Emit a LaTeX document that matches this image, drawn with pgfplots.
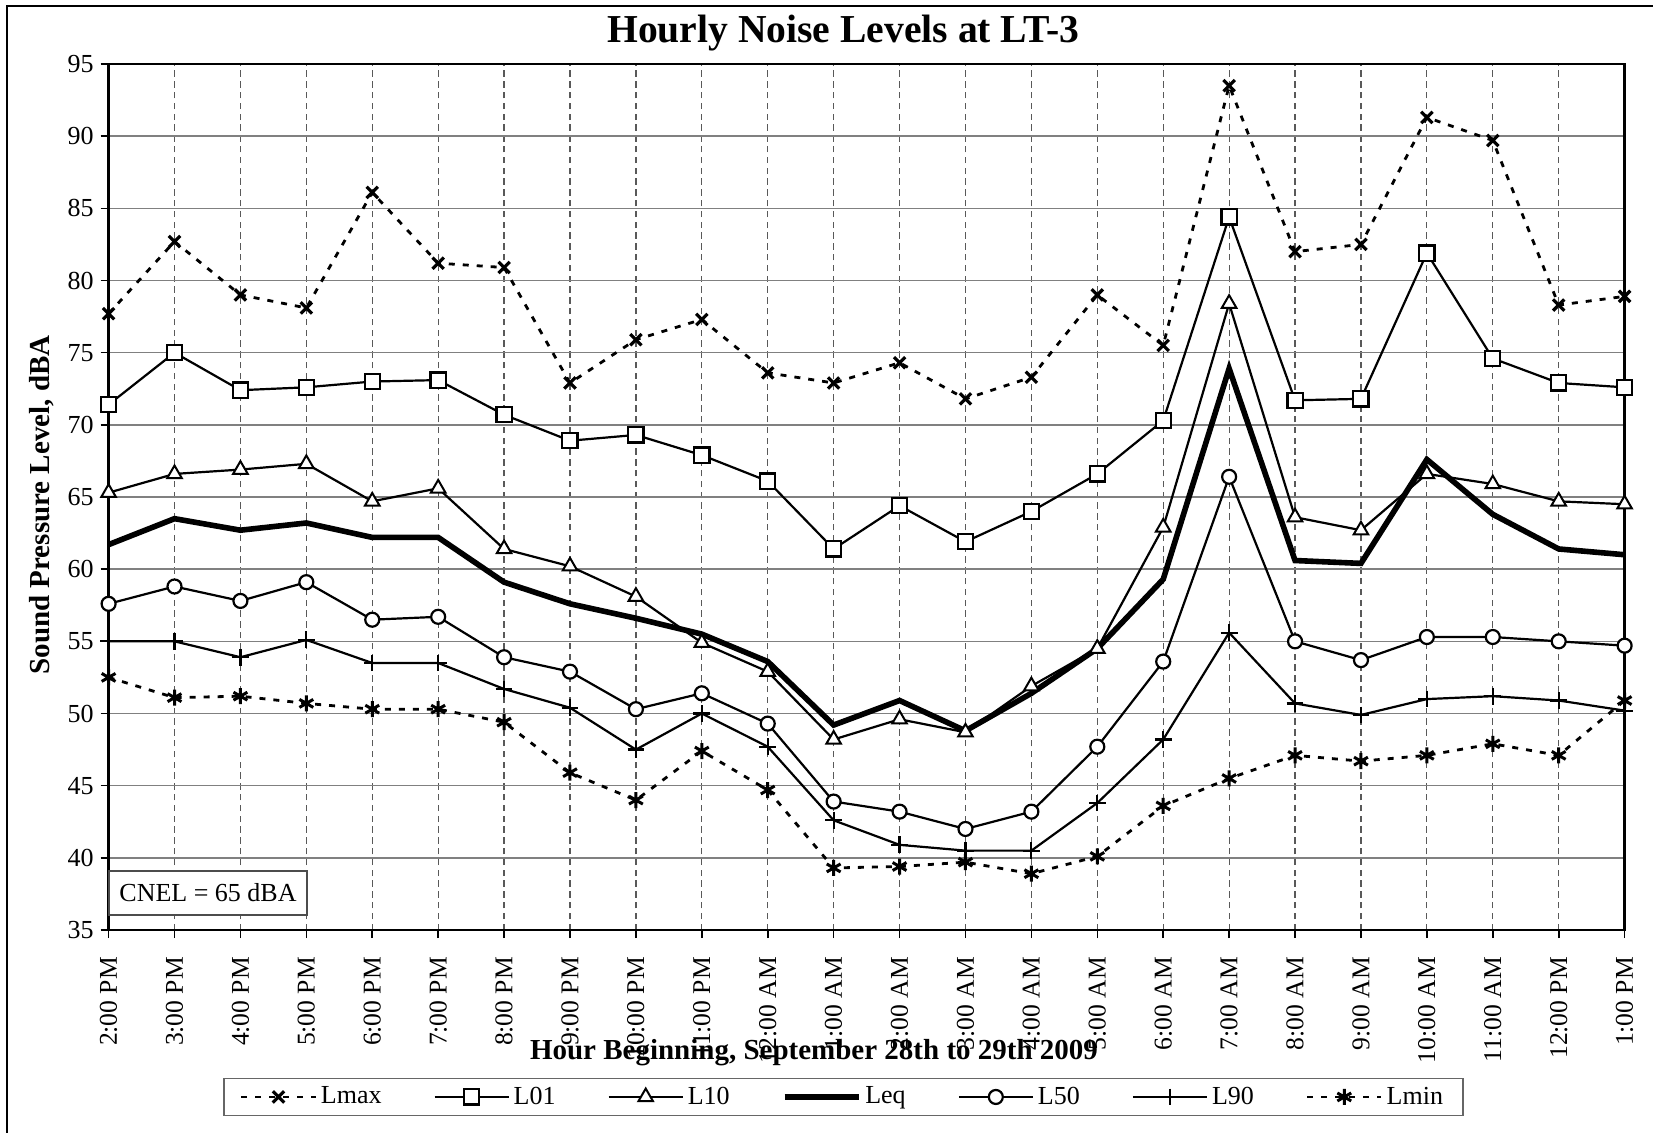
\documentclass[border=0pt]{standalone}
\usepackage{fontspec}
\setmainfont{Liberation Serif}
\usepackage{pgfplots}
\pgfplotsset{compat=1.18}
\usepackage{pgfplotstable}

\pgfplotstableread{
x  Lmax L01  L10  Leq  L50  L90  Lmin
0  77.7 71.4 65.3 61.7 57.6 55.0 52.5
1  82.7 75.0 66.6 63.5 58.8 55.0 51.1
2  79.0 72.4 66.9 62.7 57.8 53.9 51.2
3  78.1 72.6 67.3 63.2 59.1 55.1 50.7
4  86.1 73.0 64.7 62.2 56.5 53.5 50.3
5  81.2 73.1 65.6 62.2 56.7 53.5 50.3
6  80.9 70.7 61.4 59.1 53.9 51.7 49.4
7  72.9 68.9 60.2 57.6 52.9 50.4 45.9
8  75.9 69.3 58.1 56.6 50.3 47.5 44.0
9  77.3 67.9 54.9 55.5 51.4 50.0 47.4
10 73.6 66.1 52.9 53.6 49.3 47.7 44.7
11 72.9 61.4 48.2 49.2 43.9 42.6 39.3
12 74.3 64.4 49.6 50.9 43.2 40.9 39.4
13 71.8 61.9 48.7 48.8 42.0 40.5 39.7
14 73.3 64.0 51.9 51.4 43.2 40.5 38.9
15 79.0 66.6 54.5 54.5 47.7 43.8 40.1
16 75.5 70.3 62.9 59.3 53.6 48.2 43.6
17 93.5 84.4 78.4 73.9 66.4 55.6 45.5
18 82.0 71.7 63.6 60.6 55.0 50.7 47.1
19 82.5 71.8 62.7 60.4 53.7 49.9 46.7
20 91.3 81.9 66.6 67.6 55.3 51.0 47.1
21 89.7 74.6 65.9 63.8 55.3 51.2 47.9
22 78.3 72.9 64.7 61.4 55.0 50.9 47.1
23 78.9 72.6 64.5 61.0 54.7 50.2 50.9
}\datatable

\begin{document}
\begin{tikzpicture}
\useasboundingbox (0,0) rectangle (826.5pt,566pt);
\draw[line width=1pt] (3.5pt,-1pt) -- (3.5pt,563pt) -- (827pt,563pt);
\begin{axis}[
  at={(54.3pt,101pt)}, anchor=south west,
  scale only axis, width=758pt, height=433pt,
  xmin=0, xmax=23, ymin=35, ymax=95,
  clip=false,
  xtick={0,...,23},
  xticklabels={2:00 PM,3:00 PM,4:00 PM,5:00 PM,6:00 PM,7:00 PM,8:00 PM,9:00 PM,10:00 PM,11:00 PM,12:00 AM,1:00 AM,2:00 AM,3:00 AM,4:00 AM,5:00 AM,6:00 AM,7:00 AM,8:00 AM,9:00 AM,10:00 AM,11:00 AM,12:00 PM,1:00 PM},
  ytick={35,40,...,95},
  tick pos=left, tick align=outside, major tick length=4pt,
  tick style={black, line width=0.8pt},
  axis line style={black, line width=1.2pt},
  xmajorgrids, ymajorgrids,
  x grid style={black!65, line width=0.6pt, dash pattern=on 3.2pt off 2.2pt},
  y grid style={black!50, line width=0.7pt},
  /pgf/number format/assume math mode=true,
  yticklabel style={font=\fontsize{13}{15}\selectfont},
  xticklabel style={font=\fontsize{12.8}{14}\selectfont, rotate=90, anchor=east},
  xticklabel shift=6pt,
  title={Hourly Noise Levels at LT-3},
  title style={font=\bfseries\fontsize{19.8}{22}\selectfont, at={(axis description cs:0.4847,1.0104)}, anchor=base},
  ylabel={Sound Pressure Level, dBA},
  ylabel style={font=\bfseries\fontsize{14.5}{16}\selectfont, at={(axis description cs:-0.0439,0.4908)}, anchor=center},
  xlabel={Hour Beginning, September 28th to 29th 2009},
  xlabel style={font=\bfseries\fontsize{14.5}{16}\selectfont, at={(axis description cs:0.4653,-0.149)}, anchor=base},
  legend columns=7,
  legend style={at={(0.4848,-0.1928)}, anchor=center, draw=black!60, line width=0.6pt,
    font=\fontsize{13}{15}\selectfont, inner xsep=8pt, inner ysep=2pt,
    /tikz/every even column/.append style={column sep=24pt}},
  legend image code/.code={\draw[mark repeat=2,mark phase=2,#1] plot coordinates {(0pt,0pt) (18.5pt,0pt) (37pt,0pt)};},
]
\addplot[black, line width=1.4pt, dash pattern=on 3pt off 4pt, mark=x, mark size=4pt, mark options={solid, line width=1.6pt}] table[x=x,y=Lmax]{\datatable};
\addlegendentry{Lmax}
\addplot[black, line width=1.1pt, mark=square*, mark size=3.8pt, mark options={solid, fill=white, line width=1.1pt}] table[x=x,y=L01]{\datatable};
\addlegendentry{L01}
\addplot[black, line width=1.1pt, mark=triangle*, mark size=4.2pt, mark options={solid, fill=white, line width=1pt}] table[x=x,y=L10]{\datatable};
\addlegendentry{L10}
\addplot[black, line width=2.8pt, no marks] table[x=x,y=Leq]{\datatable};
\addlegendentry{Leq}
\addplot[black, line width=1.1pt, mark=*, mark size=3.5pt, mark options={solid, fill=white, line width=1.1pt}] table[x=x,y=L50]{\datatable};
\addlegendentry{L50}
\addplot[black, line width=1.1pt, mark=+, mark size=4.2pt, mark options={solid, line width=1.1pt}] table[x=x,y=L90]{\datatable};
\addlegendentry{L90}
\addplot[black, line width=1.4pt, dash pattern=on 3pt off 4pt, mark=asterisk, mark size=4pt, mark options={solid, line width=1.5pt}] table[x=x,y=Lmin]{\datatable};
\addlegendentry{Lmin}
\node[draw=black!70, line width=0.6pt, fill=white, minimum width=99pt, minimum height=22pt, inner sep=0pt, font=\fontsize{13}{15}\selectfont] at (rel axis cs:0.0656,0.0427) {CNEL = 65 dBA};
\end{axis}
\end{tikzpicture}
\end{document}
